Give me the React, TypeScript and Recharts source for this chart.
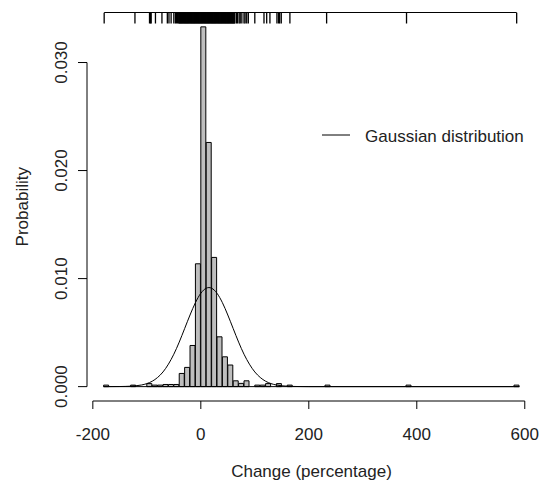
import React from "react";
import {
  ComposedChart,
  Bar,
  Line,
  Scatter,
  XAxis,
  YAxis,
  ReferenceLine,
  Legend,
} from "recharts";

// histogram: bin midpoints (width 10) and density, only the non-empty bins
const binMids = [
  -175, -125, -95, -85, -75, -65, -55, -45, -35, -25, -15, -5, 5, 15, 25, 35,
  45, 55, 65, 75, 85, 105, 115, 125, 145, 165, 235, 385, 585,
];
const binDensity = [
  0.00014, 0.00014, 0.00028, 0.00014, 0.00014, 0.0002, 0.0002, 0.0002, 0.00122,
  0.00178, 0.00381, 0.01137, 0.0333, 0.0226, 0.01196, 0.00461, 0.00276, 0.002,
  0.00054, 0.0003, 0.00054, 0.00014, 0.00014, 0.00028, 0.00028, 0.00014,
  0.00014, 0.00014, 0.00014,
];

// fitted gaussian
const curveX = [
  -180, -150, -140, -130, -120, -110, -100, -90, -80, -70, -60, -50, -40, -30,
  -20, -10, 0, 10, 15, 20, 30, 40, 50, 60, 70, 80, 90, 100, 110, 120, 130, 140,
  150, 160, 170, 180, 200, 590,
];
const curveY = [
  0, 0.00001, 0.00002, 0.00004, 0.00008, 0.00015, 0.00028, 0.0005, 0.00085,
  0.00136, 0.00208, 0.003, 0.00412, 0.00537, 0.00663, 0.00777, 0.00864,
  0.00911, 0.00917, 0.00911, 0.00864, 0.00777, 0.00663, 0.00537, 0.00412,
  0.003, 0.00208, 0.00136, 0.00085, 0.0005, 0.00028, 0.00015, 0.00008,
  0.00004, 0.00002, 0.00001, 0, 0,
];

// rug of the raw observations (top side)
const rugValues = [
  -179, -122, -95, -93, -92, -84, -72, -62, -59, -55, -50, -47, -45, -43, -41,
  -40, -39, -38, -37, -36, -35, -34, -33, -32, -31, -30, -29, -28, -27, -26,
  -25, -24, -23, -22, -21, -20, -19, -18, -17, -16, -15, -14, -13, -12, -11,
  -10, -9, -8, -7, -6, -5, -4, -3, -2, -1, 0, 1, 2, 3, 4, 5, 6, 7, 8, 9, 10,
  11, 12, 13, 14, 15, 16, 17, 18, 19, 20, 21, 22, 23, 24, 25, 26, 27, 28, 29,
  30, 31, 32, 33, 34, 35, 36, 37, 38, 39, 40, 41, 42, 43, 44, 45, 46, 47, 48,
  49, 50, 51, 52, 53, 54, 55, 56, 57, 58, 59, 60, 61, 62, 63, 66, 68, 71, 73,
  76, 80, 82, 85, 88, 100, 117, 122, 128, 141, 144, 146, 149, 165, 233, 381,
  585,
];

const xTicks = [-200, 0, 200, 400, 600];
const yTicks = [0, 0.01, 0.02, 0.03];

const X_DOMAIN: [number, number] = [-210.8, 620.8];
const Y_DOMAIN: [number, number] = [-0.00133, 0.03463];
const FONT = "'Liberation Sans', Arial, sans-serif";
const INK = "#222";

const histData = binMids.map((x, i) => ({ x, d: binDensity[i] }));
const curveData = curveX.map((x, i) => ({ x, y: curveY[i] }));
const rugData = rugValues.map((x) => ({ x, y: Y_DOMAIN[1] }));

const XTick = (props: any) => (
  <text
    x={props.x}
    y={props.y + 29}
    textAnchor="middle"
    fontFamily={FONT}
    fontSize={17}
    fill={INK}
  >
    {props.payload.value}
  </text>
);

const YTick = (props: any) => {
  const bx = props.x - 9;
  return (
    <text
      x={bx}
      y={props.y}
      transform={`rotate(-90, ${bx}, ${props.y})`}
      textAnchor="middle"
      fontFamily={FONT}
      fontSize={17}
      fill={INK}
    >
      {Number(props.payload.value).toFixed(3)}
    </text>
  );
};

const RugTick = (props: any) => (
  <line
    x1={props.cx}
    x2={props.cx}
    y1={props.cy}
    y2={props.cy + 11}
    stroke="#000"
    strokeWidth={1.3}
  />
);

const LegendBox = () => (
  <svg width={220} height={30}>
    <line x1={4} x2={32} y1={13} y2={13} stroke="#000" strokeWidth={1} />
    <text x={47} y={20} fontFamily={FONT} fontSize={17} fill={INK}>
      Gaussian distribution
    </text>
  </svg>
);

export default function App() {
  return (
    <div style={{ position: "absolute", left: 0, top: 0, background: "#fff" }}>
      <ComposedChart
        width={544}
        height={483}
        data={histData}
        margin={{ top: 12.5, right: 8, bottom: 22, left: 7 }}
        barCategoryGap={0}
        barGap={0}
      >
        <XAxis
          xAxisId="main"
          dataKey="x"
          type="number"
          domain={X_DOMAIN}
          allowDataOverflow
          ticks={xTicks}
          height={60}
          tickSize={8}
          axisLine={false}
          tickLine={{ stroke: "#000" }}
          tick={<XTick />}
          label={{
            content: (p: any) => {
              const vb = p.viewBox || { x: 87, y: 401, width: 449 };
              return (
                <text
                  x={vb.x + vb.width / 2}
                  y={vb.y + 76}
                  textAnchor="middle"
                  fontFamily={FONT}
                  fontSize={17}
                  fill={INK}
                >
                  Change (percentage)
                </text>
              );
            },
          }}
        />
        <XAxis
          xAxisId="curve"
          orientation="top"
          dataKey="x"
          type="number"
          domain={X_DOMAIN}
          allowDataOverflow
          hide
        />
        <XAxis
          xAxisId="rug"
          orientation="top"
          dataKey="x"
          type="number"
          domain={X_DOMAIN}
          allowDataOverflow
          hide
        />
        <YAxis
          type="number"
          domain={Y_DOMAIN}
          allowDataOverflow
          ticks={yTicks}
          width={80}
          tickSize={9}
          axisLine={false}
          tickLine={{ stroke: "#000" }}
          tick={<YTick />}
          label={{
            content: (p: any) => {
              const vb = p.viewBox || { x: 7, y: 12.5, height: 388.5 };
              const bx = vb.x + 21;
              const cy = vb.y + vb.height / 2;
              return (
                <text
                  x={bx}
                  y={cy}
                  transform={`rotate(-90, ${bx}, ${cy})`}
                  textAnchor="middle"
                  fontFamily={FONT}
                  fontSize={17}
                  fill={INK}
                >
                  Probability
                </text>
              );
            },
          }}
        />

        {/* axis lines span only the tick range, like base R */}
        <ReferenceLine
          xAxisId="main"
          segment={[
            { x: X_DOMAIN[0], y: yTicks[0] },
            { x: X_DOMAIN[0], y: yTicks[yTicks.length - 1] },
          ]}
          stroke="#000"
          ifOverflow="visible"
        />
        <ReferenceLine
          xAxisId="main"
          segment={[
            { x: xTicks[0], y: Y_DOMAIN[0] },
            { x: xTicks[xTicks.length - 1], y: Y_DOMAIN[0] },
          ]}
          stroke="#000"
          ifOverflow="visible"
        />
        {/* zero-height bins show as a line along the base */}
        <ReferenceLine
          xAxisId="main"
          segment={[
            { x: -180, y: 0 },
            { x: 590, y: 0 },
          ]}
          stroke="#000"
          ifOverflow="visible"
        />
        {/* rug base line */}
        <ReferenceLine
          xAxisId="rug"
          segment={[
            { x: rugValues[0], y: Y_DOMAIN[1] },
            { x: rugValues[rugValues.length - 1], y: Y_DOMAIN[1] },
          ]}
          stroke="#000"
          ifOverflow="visible"
        />

        <Bar
          xAxisId="main"
          dataKey="d"
          fill="#bebebe"
          stroke="#000"
          strokeWidth={1}
          legendType="none"
          isAnimationActive={false}
        />
        <Line
          xAxisId="curve"
          data={curveData}
          dataKey="y"
          name="Gaussian distribution"
          type="monotone"
          stroke="#000"
          strokeWidth={1}
          dot={false}
          isAnimationActive={false}
        />
        <Scatter
          xAxisId="rug"
          data={rugData}
          dataKey="y"
          shape={<RugTick />}
          legendType="none"
          isAnimationActive={false}
        />
        <Legend
          layout="horizontal"
          verticalAlign="middle"
          align="center"
          content={<LegendBox />}
          wrapperStyle={{ left: 318, top: 122, width: 220, height: 30 }}
        />
      </ComposedChart>
    </div>
  );
}
